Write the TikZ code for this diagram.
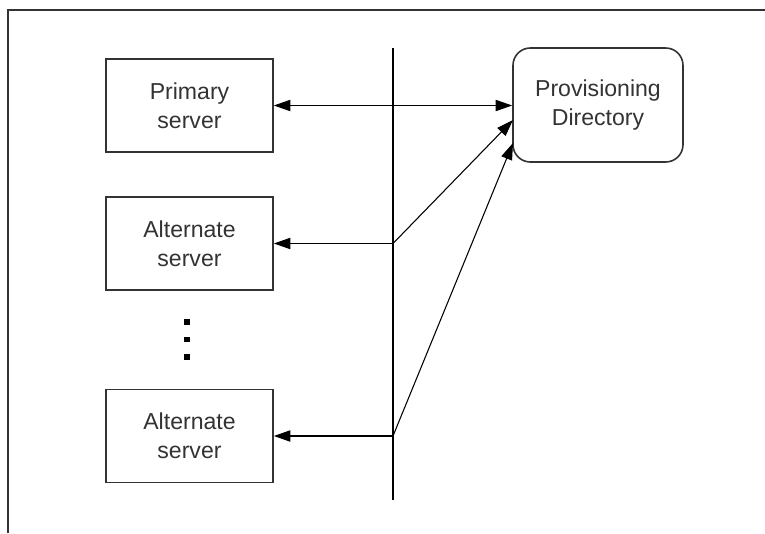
\documentclass[tikz,border=0pt]{standalone}
\usepackage{fontspec}
\setmainfont{Liberation Sans}
\usetikzlibrary{arrows.meta}
\definecolor{ink}{HTML}{333333}
\tikzset{
  srvbox/.style={draw=ink, line width=1.2pt, minimum width=167*0.75pt, minimum height=93*0.75pt,
    align=center, text=ink, font=\fontsize{17.3}{21.75}\selectfont, inner sep=0pt},
  dirbox/.style={draw=ink, line width=1.2pt, rounded corners=13pt, minimum width=170*0.75pt,
    minimum height=114*0.75pt, align=center, text=ink, font=\fontsize{17.3}{21.75}\selectfont, inner sep=0pt},
  conn/.style={draw=black, line width=0.8pt},
  tip/.style={-{Triangle[length=12.5pt,width=8.5pt]}},
  dot/.style={fill=black, minimum size=3.8pt, inner sep=0pt}
}
\begin{document}
\begin{tikzpicture}[x=0.75pt,y=-0.75pt]
\useasboundingbox (0,0) rectangle (765,533);
% frame
\draw[ink, line width=1.2pt] (8,533) -- (8,10) -- (765,10);
% nodes
\node[srvbox] (prim) at (189.5,105.5) {Primary\\server};
\node[srvbox] (alt1) at (189.5,243.5) {Alternate\\server};
\node[srvbox] (alt2) at (189.5,436) {Alternate\\server};
\node[dirbox] (pd) at (598,105) {Provisioning\\Directory};
\node[dot] (d1) at (187,322) {};
\node[dot] (d2) at (187,339.5) {};
\node[dot] (d3) at (187,357) {};
% vertical line
\coordinate (vtop) at (393,48);
\coordinate (vbot) at (393,500);
\draw[conn] (vtop) -- (vbot);
% junctions and targets
\coordinate (j1) at (393,243.5);
\coordinate (j2) at (393,436);
\coordinate (t1) at (513,120);
\coordinate (t2) at (513,143);
% connectors
\draw[conn, {Triangle[length=12.5pt,width=8.5pt]}-{Triangle[length=12.5pt,width=8.5pt]}] (prim.east) -- (prim.east -| pd.west);
\draw[conn, tip] (j1) -- (alt1.east);
\draw[conn, tip] (j1) -- (t1);
\draw[conn, tip] (j2) -- (alt2.east);
\draw[conn, tip] (j2) -- (t2);
\end{tikzpicture}
\end{document}
